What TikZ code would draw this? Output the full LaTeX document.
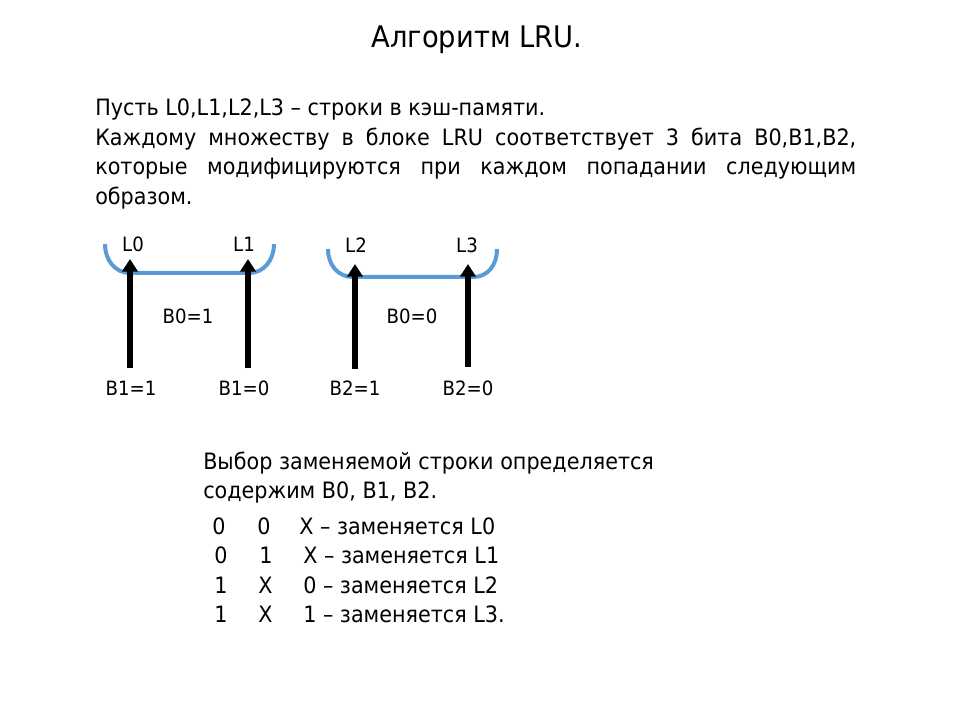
\documentclass[tikz,border=0pt]{standalone}
\usepackage{fontspec}
\usetikzlibrary{arrows.meta}
\setmainfont{DejaVu Sans}[FakeStretch=0.92]
\newlength\pxu
\setlength\pxu{0.75pt}
\definecolor{bracketblue}{RGB}{91,155,213}
\tikzset{
  txt/.style={inner sep=0pt, anchor=base west, font=\fontsize{16.9}{20}\selectfont},
  lbl/.style={inner sep=0pt, anchor=base, font=\fontsize{14.8}{17}\selectfont},
  bracket/.style={draw=bracketblue, line width=3pt, line cap=butt},
  bitarrow/.style={draw=black, line width=4.4pt, -{Triangle[width=11.5pt,length=9.5pt]}}
}
\begin{document}
\begin{tikzpicture}[x=0.75pt,y=-0.75pt]
\useasboundingbox (0,0) rectangle (960,720);

% title
\node[inner sep=0pt, anchor=base, font=\fontsize{22.3}{26}\selectfont] (title) at (477,48) {Алгоритм LRU.};

% introduction
\node[txt] (p1) at (95,116) {Пусть L0,L1,L2,L3 – строки в кэш-памяти.};
\node[txt] (p2) at (95,146) {\makebox[761\pxu][s]{Каждому множеству в блоке LRU соответствует 3 бита B0,B1,B2,}};
\node[txt] (p3) at (95,175) {\makebox[761\pxu][s]{которые модифицируются при каждом попадании следующим}};
\node[txt] (p4) at (95,205) {образом.};

% left pair of lines
\draw[bracket] (105,244) .. controls (105,260) and (115,273) .. (130,273)
  -- (249,273) .. controls (264,273) and (274,260) .. (274,244);
% right pair of lines
\draw[bracket] (328,249) .. controls (328,265) and (338,277) .. (353,277)
  -- (473,277) .. controls (488,277) and (497,265) .. (497,249);

\node[lbl] (l0) at (133,252) {L0};
\node[lbl] (l1) at (244,252) {L1};
\node[lbl] (l2) at (356,253) {L2};
\node[lbl] (l3) at (467,253) {L3};

\node[lbl] (b0a) at (188,323) {B0=1};
\node[lbl] (b0b) at (412,323) {B0=0};

\node[lbl] (b1a) at (131,395) {B1=1};
\node[lbl] (b1b) at (244,395) {B1=0};
\node[lbl] (b2a) at (355,395) {B2=1};
\node[lbl] (b2b) at (468,395) {B2=0};

% bit arrows
\coordinate (s0) at (130,368); \coordinate (t0) at (130,259);
\coordinate (s1) at (248,368); \coordinate (t1) at (248,259);
\coordinate (s2) at (355,369); \coordinate (t2) at (355,264);
\coordinate (s3) at (468,367); \coordinate (t3) at (468,264);
\draw[bitarrow] (s0) -- (t0);
\draw[bitarrow] (s1) -- (t1);
\draw[bitarrow] (s2) -- (t2);
\draw[bitarrow] (s3) -- (t3);

% replacement choice
\node[txt] (q1) at (203,469) {Выбор заменяемой строки определяется};
\node[txt] (q2) at (203,498) {содержим B0, B1, B2.};

\node[txt] (r1a) at (212,534) {0};
\node[txt] (r1b) at (257,534) {0};
\node[txt] (r1c) at (299,534) {X – заменяется L0};
\node[txt] (r2a) at (214,563) {0};
\node[txt] (r2b) at (259,563) {1};
\node[txt] (r2c) at (303,563) {X – заменяется L1};
\node[txt] (r3a) at (214,593) {1};
\node[txt] (r3b) at (258,593) {X};
\node[txt] (r3c) at (303,593) {0 – заменяется L2};
\node[txt] (r4a) at (214,622) {1};
\node[txt] (r4b) at (258,622) {X};
\node[txt] (r4c) at (303,622) {1 – заменяется L3.};
\end{tikzpicture}
\end{document}
